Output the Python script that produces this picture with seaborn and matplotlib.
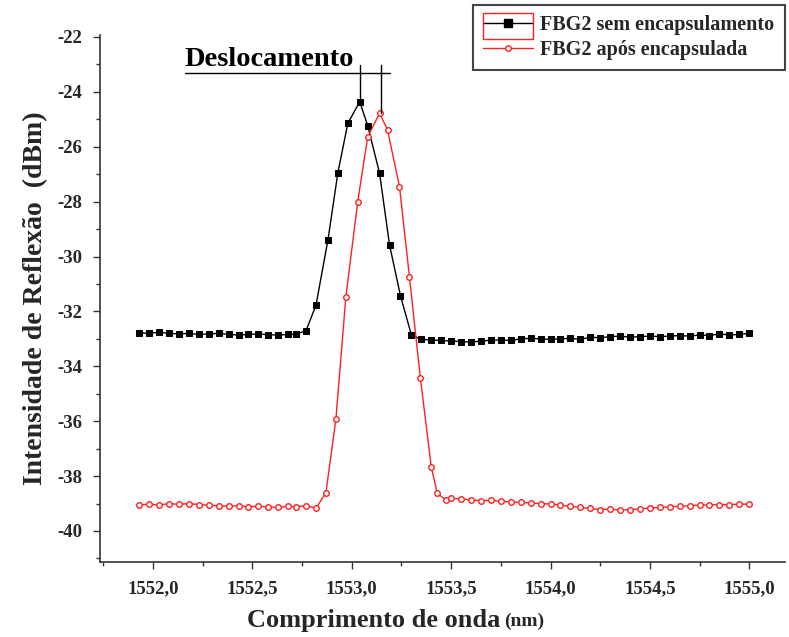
import matplotlib
matplotlib.use("Agg")
import matplotlib.pyplot as plt
import matplotlib.ticker as mticker
from matplotlib.patches import Rectangle
from matplotlib.lines import Line2D
import seaborn as sns
import pandas as pd

# ---------------- data ----------------
x_sem = [1551.93, 1551.98, 1552.03, 1552.08, 1552.13, 1552.18, 1552.23, 1552.28,
         1552.33, 1552.38, 1552.43, 1552.48, 1552.53, 1552.58, 1552.63, 1552.68,
         1552.72, 1552.77, 1552.82, 1552.88, 1552.93, 1552.98, 1553.04, 1553.08,
         1553.14, 1553.19, 1553.245, 1553.30, 1553.35, 1553.40, 1553.45, 1553.50,
         1553.55, 1553.60, 1553.65, 1553.70, 1553.75, 1553.80, 1553.85, 1553.90,
         1553.95, 1554.00, 1554.05, 1554.10, 1554.15, 1554.20, 1554.25, 1554.30,
         1554.35, 1554.40, 1554.45, 1554.50, 1554.55, 1554.60, 1554.65, 1554.70,
         1554.75, 1554.80, 1554.85, 1554.90, 1554.95, 1555.00]
y_sem = [-32.78, -32.80, -32.76, -32.80, -32.82, -32.80, -32.84, -32.82,
         -32.80, -32.84, -32.86, -32.84, -32.82, -32.85, -32.86, -32.84,
         -32.83, -32.70, -31.77, -29.40, -26.95, -25.15, -24.36, -25.23,
         -26.97, -29.58, -31.43, -32.86, -33.02, -33.04, -33.06, -33.08,
         -33.10, -33.12, -33.08, -33.05, -33.04, -33.06, -33.00, -32.98,
         -33.00, -33.02, -33.00, -32.98, -33.02, -32.94, -32.96, -32.92,
         -32.90, -32.94, -32.92, -32.90, -32.92, -32.90, -32.88, -32.90,
         -32.86, -32.88, -32.82, -32.86, -32.84, -32.80]

x_apos = [1551.93, 1551.98, 1552.03, 1552.08, 1552.13, 1552.18, 1552.23, 1552.28,
          1552.33, 1552.38, 1552.43, 1552.48, 1552.53, 1552.58, 1552.63, 1552.68,
          1552.72, 1552.77, 1552.82, 1552.87, 1552.92, 1552.97, 1553.03, 1553.08,
          1553.14, 1553.18, 1553.24, 1553.29, 1553.345, 1553.40, 1553.43, 1553.475,
          1553.50, 1553.55, 1553.60, 1553.65, 1553.70, 1553.75, 1553.80, 1553.85,
          1553.90, 1553.95, 1554.00, 1554.05, 1554.10, 1554.15, 1554.20, 1554.25,
          1554.30, 1554.35, 1554.40, 1554.45, 1554.50, 1554.55, 1554.60, 1554.65,
          1554.70, 1554.75, 1554.80, 1554.85, 1554.90, 1554.95, 1555.00]
y_apos = [-39.05, -39.02, -39.06, -39.00, -39.03, -39.00, -39.04, -39.06,
          -39.08, -39.10, -39.08, -39.12, -39.10, -39.12, -39.14, -39.10,
          -39.12, -39.08, -39.17, -38.60, -35.93, -31.49, -28.00, -25.65,
          -24.78, -25.39, -27.45, -30.73, -34.42, -37.66, -38.63, -38.87,
          -38.80, -38.84, -38.86, -38.90, -38.88, -38.92, -38.94, -38.96,
          -38.98, -39.00, -39.02, -39.06, -39.10, -39.14, -39.18, -39.22,
          -39.20, -39.24, -39.22, -39.20, -39.16, -39.14, -39.12, -39.10,
          -39.08, -39.06, -39.05, -39.04, -39.04, -39.02, -39.02]

label_sem = "FBG2 sem encapsulamento"
label_apos = "FBG2 após encapsulada"
annot_text = "Deslocamento"
peak_sem = (1553.04, -24.36)
peak_apos = (1553.145, -24.77)

# ---------------- plot ----------------
sns.set_theme(style="white")
plt.rcParams['font.family'] = ['Liberation Serif', 'DejaVu Serif']
plt.rcParams['font.weight'] = 'bold'

fig = plt.figure(figsize=(7.89, 6.37), dpi=100)
W, H = 789, 637
ax = fig.add_axes([100 / W, 1 - 562 / H, (785 - 100) / W, (562 - 35) / H])

df_sem = pd.DataFrame({"x": x_sem, "y": y_sem})
df_apos = pd.DataFrame({"x": x_apos, "y": y_apos})

sns.lineplot(data=df_sem, x="x", y="y", ax=ax, color="black", linewidth=1.0,
             marker="s", markersize=5, markeredgecolor="black",
             markerfacecolor="black", sort=False, label=label_sem, legend=False)
sns.lineplot(data=df_apos, x="x", y="y", ax=ax, color="#ff2020", linewidth=1.0,
             marker="o", markersize=4, markeredgecolor="#ff2020",
             markerfacecolor="white", markeredgewidth=1.0, sort=False,
             label=label_apos, legend=False)

ax.set_xlim(1551.733, 1555.18)
ax.set_ylim(-41.13, -21.93)

ax.xaxis.set_major_locator(mticker.MultipleLocator(0.5))
ax.xaxis.set_minor_locator(mticker.MultipleLocator(0.25))
ax.yaxis.set_major_locator(mticker.MultipleLocator(2))
ax.yaxis.set_minor_locator(mticker.MultipleLocator(1))
ax.xaxis.set_major_formatter(mticker.FuncFormatter(lambda v, p: f"{v:.1f}".replace(".", ",")))
ax.yaxis.set_major_formatter(mticker.FuncFormatter(lambda v, p: f"{v:.0f}"))

for s in ["top", "right"]:
    ax.spines[s].set_visible(False)
for s in ["left", "bottom"]:
    ax.spines[s].set_color("#333333")
    ax.spines[s].set_linewidth(1.2)

ax.tick_params(axis="both", which="major", direction="out", length=5, width=1.0,
               color="#333333", labelsize=13.5, pad=8, bottom=True, left=True)
ax.tick_params(axis="both", which="minor", direction="out", length=3, width=1.0,
               color="#333333", bottom=True, left=True)
for lab in ax.get_xticklabels() + ax.get_yticklabels():
    lab.set_fontweight("bold")

ax.set_xlabel("")
ax.set_ylabel("Intensidade de Reflexão  (dBm)", fontsize=20, fontweight="bold",
              labelpad=6)
fig.text(500 / W, 1 - 620 / H, "Comprimento de onda", fontsize=19,
         fontweight="bold", ha="right", va="center")
fig.text(504 / W, 1 - 621 / H, "(nm)", fontsize=14, fontweight="bold",
         ha="left", va="center")

# annotation
ax.text(1552.16, -23.06, annot_text, fontsize=20.5, fontweight="bold",
        ha="left", va="baseline", color="black")
ax.plot([1552.16, 1553.19], [-23.31, -23.31], color="black", linewidth=1.0)
ax.plot([peak_sem[0], peak_sem[0]], [-23.02, peak_sem[1]], color="black", linewidth=1.0)
ax.plot([peak_apos[0], peak_apos[0]], [-23.02, peak_apos[1]], color="black", linewidth=1.0)

# legend
handles = [
    Line2D([], [], color="black", linewidth=1.0, marker="s", markersize=6,
           markerfacecolor="black", markeredgecolor="black"),
    Line2D([], [], color="#ff2020", linewidth=1.0, marker="o", markersize=4,
           markerfacecolor="white", markeredgecolor="#ff2020"),
]
leg = ax.legend(handles, [label_sem, label_apos], loc="upper left",
                bbox_to_anchor=(473 / W, 1 - 5 / H), bbox_transform=fig.transFigure,
                prop={"family": "Liberation Serif", "weight": "bold", "size": 14.5},
                frameon=True, fancybox=False, framealpha=1, edgecolor="#444444",
                handlelength=2.5, handletextpad=0.35, borderpad=0.5,
                labelspacing=0.25, borderaxespad=0)
leg.get_frame().set_linewidth(1.5)

fig.patches.append(Rectangle((483 / W, 1 - 39 / H), 50 / W, 26 / H,
                             transform=fig.transFigure, fill=False,
                             edgecolor="#ff2020", linewidth=1.0, zorder=10))

fig.savefig("out.png", dpi=100, facecolor="white")
